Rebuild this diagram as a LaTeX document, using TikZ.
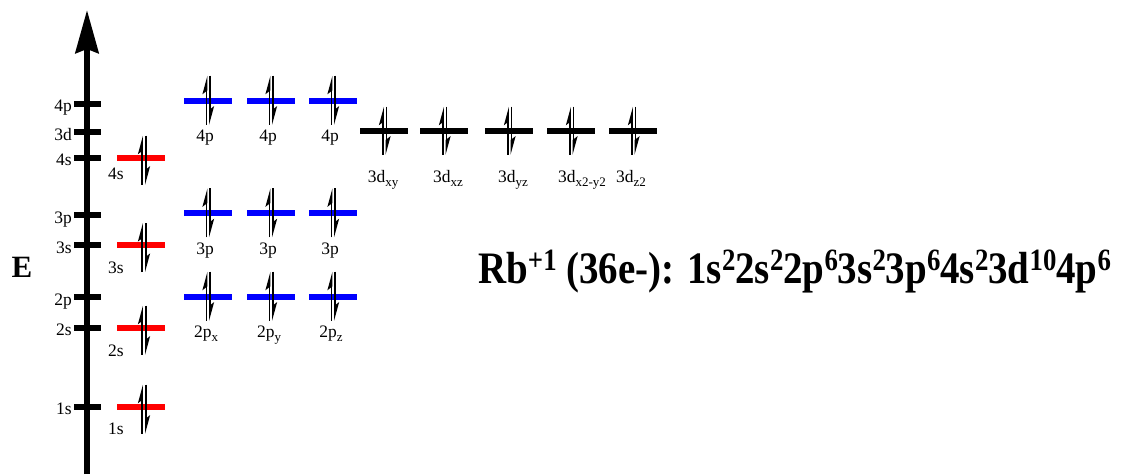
\documentclass[tikz,border=0pt]{standalone}
\usepackage{fontspec}
\usepackage{graphicx}
\setmainfont{Liberation Serif}
\usetikzlibrary{arrows.meta}

\newcommand{\orbsub}[1]{\raisebox{-4pt}{\fontsize{13}{13}\selectfont #1}}
\newcommand{\esup}[1]{\raisebox{13pt}{\fontsize{31}{31}\selectfont #1}}

\tikzset{
  level/.style={line width=6pt},
  spinup/.style={line width=1.8pt, -{Stealth[harpoon,length=15pt,width=8pt,inset=3pt]}},
  lbl/.style={font=\fontsize{17.5}{20}\selectfont, inner sep=0pt, anchor=base},
}

\begin{document}
\begin{tikzpicture}[x=1pt, y=-1pt]
  \useasboundingbox (0,0) rectangle (1123,474);

  % energy axis
  \coordinate (axbot) at (87,474);
  \coordinate (axtop) at (87,10);
  \draw[line width=6pt, -{Stealth[length=43pt,width=23pt,inset=4pt]}] (axbot) -- (axtop);
  \node[font=\fontsize{31}{31}\selectfont\bfseries] (E) at (22,267) {E};

  \foreach \t/\y in {4p/103.7, 3d/132, 4s/157.7, 3p/215, 3s/245, 2p/297, 2s/327.7, 1s/406.7} {
    \draw[level] (74,\y) -- (101,\y);
    \node[lbl, anchor=base east] (t\t) at (72,\y+8) {\t};
  }

  % s levels
  \foreach \n/\y/\ly in {1s/406.7/28, 2s/327.7/29, 3s/245/28, 4s/157.7/22} {
    \coordinate (o\n) at (141,\y);
    \draw[level, red] ([xshift=-24pt]o\n) -- ([xshift=24pt]o\n);
    \draw[spinup] ([shift={(1,27)}]o\n) -- ([shift={(1,-22)}]o\n);
    \draw[spinup] ([shift={(5,-22)}]o\n) -- ([shift={(5,27)}]o\n);
    \node[lbl] (l\n) at ([shift={(-25,\ly)}]o\n) {\n};
  }

  % p levels
  \foreach \x/\y/\dx/\txt [count=\i] in {208/296.7/-2/2p\orbsub{x}, 271/296.7/-2/2p\orbsub{y}, 333/296.7/-2/2p\orbsub{z},
      208/213.3/-3/3p, 271/213.3/-3/3p, 333/213.3/-3/3p,
      208/100.7/-3/4p, 271/100.7/-3/4p, 333/100.7/-3/4p} {
    \coordinate (p\i) at (\x,\y);
    \draw[level, blue] ([xshift=-24pt]p\i) -- ([xshift=24pt]p\i);
    \draw[spinup] ([shift={(-1.5,24)}]p\i) -- ([shift={(-1.5,-25)}]p\i);
    \draw[spinup] ([shift={(2,-25)}]p\i) -- ([shift={(2,24)}]p\i);
    \node[lbl] (lp\i) at ([shift={(\dx,41)}]p\i) {\txt};
  }

  % d levels
  \foreach \x/\dx/\txt [count=\i] in {384/-1/xy, 444/4/xz, 509/4/yz, 571/11/x2-y2, 633/-2/z2} {
    \coordinate (d\i) at (\x,130.7);
    \draw[level] ([xshift=-24pt]d\i) -- ([xshift=24pt]d\i);
    \draw[spinup] ([shift={(-1,24)}]d\i) -- ([shift={(-1,-24)}]d\i);
    \draw[spinup] ([shift={(2.5,-24)}]d\i) -- ([shift={(2.5,24)}]d\i);
    \node[lbl] (ld\i) at ([shift={(\dx,52)}]d\i) {3d\orbsub{\txt}};
  }

  \node[anchor=base west, inner sep=0pt, font=\fontsize{45}{45}\selectfont\bfseries] (config) at (478,283)
    {\scalebox{0.865}[1]{Rb\esup{+1} (36e-): 1s\esup{2}2s\esup{2}2p\esup{6}3s\esup{2}3p\esup{6}4s\esup{2}3d\esup{10}4p\esup{6}}};
\end{tikzpicture}
\end{document}
